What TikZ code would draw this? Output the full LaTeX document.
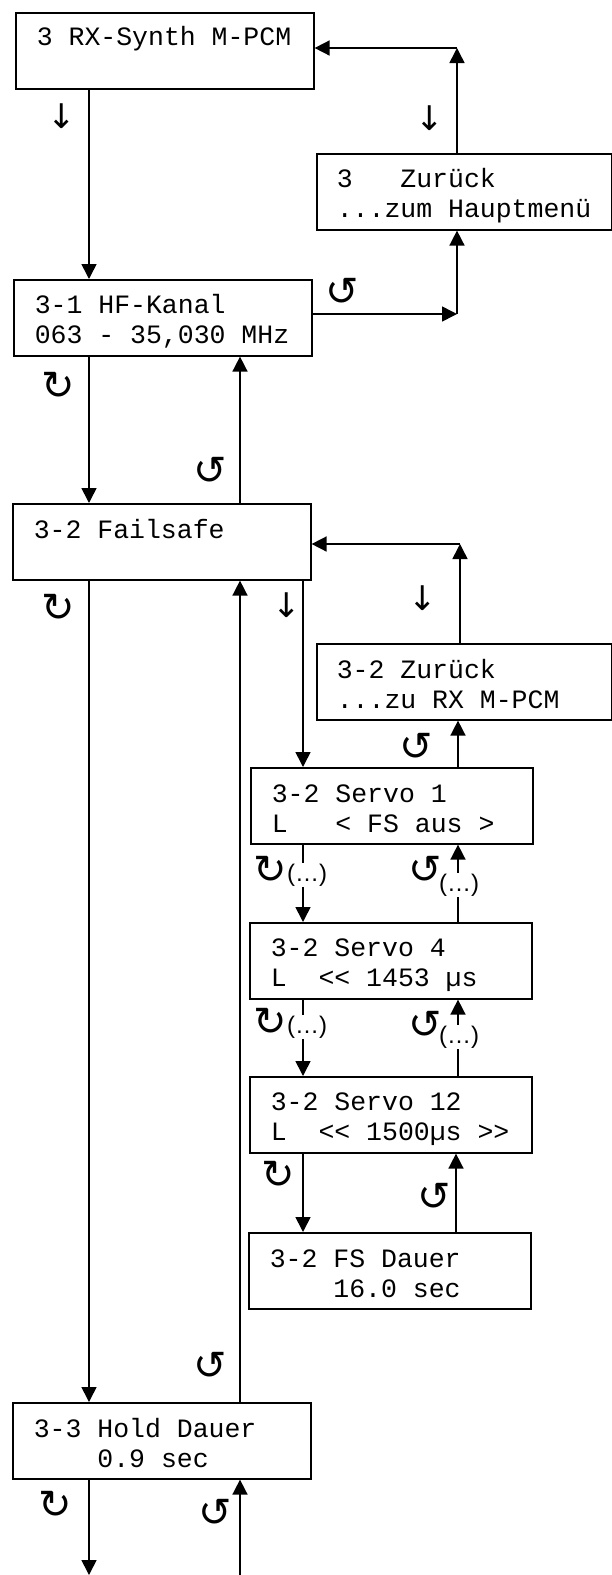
\documentclass[tikz,border=0pt]{standalone}
\usepackage{fontspec}
\usepackage{tikz}
\usetikzlibrary{positioning,arrows.meta}
\newfontfamily\lcdfont{Liberation Mono}
\newfontfamily\symfont{DejaVu Sans}
\newfontfamily\dotsfont{Liberation Sans}
\newcommand\lcdstrut{\rule[-3.5pt]{0pt}{30pt}\spaceskip=0.6em\xspaceskip=0.6em\relax}

\begin{document}
\begin{tikzpicture}[
  x=1pt, y=-1pt, line width=1.6pt, >={Triangle[length=15pt,width=15pt]},
  menu/.style={draw, anchor=north west, align=left, inner xsep=21pt, inner ysep=0pt,
               text width=256pt, minimum height=76pt,
               font=\lcdfont\fontsize{26.5}{30}\selectfont},
  back/.style={menu, inner xsep=20pt, text width=254.5pt},
  servo/.style={menu, text width=240pt},
  arr/.style={->},
  rot/.style={font=\symfont\fontsize{40}{40}\selectfont, inner sep=0pt},
  dn/.style={font=\symfont\fontsize{34}{34}\selectfont, inner sep=0pt},
  more/.style={font=\dotsfont\fontsize{24}{24}\selectfont, fill=white, inner sep=0.5pt},
]
\useasboundingbox (0,0) rectangle (611,1575);

\node[menu]  (rx)  at (15,12)    {\lcdstrut 3 RX-Synth M-PCM\\\lcdstrut};
\node[back]  (zr)  at (316,153)  {\lcdstrut 3~~~Zurück\\\lcdstrut ...zum Hauptmenü};
\node[menu]  (hf)  at (13,279)   {\lcdstrut 3-1 HF-Kanal\\\lcdstrut 063 - 35,030 MHz};
\node[menu]  (fs)  at (12,503)   {\lcdstrut 3-2 Failsafe\\\lcdstrut};
\node[back]  (zr2) at (316,643)  {\lcdstrut 3-2 Zurück\\\lcdstrut ...zu RX M-PCM};
\node[servo] (s1)  at (250,767)  {\lcdstrut 3-2 Servo 1\\\lcdstrut L~~~< FS aus >};
\node[servo] (s4)  at (249,922)  {\lcdstrut 3-2 Servo 4\\\lcdstrut L~~<{}< 1453 µs};
\node[servo] (s12) at (249,1076) {\lcdstrut 3-2 Servo 12\\\lcdstrut L~~<{}< 1500µs >{}>};
\node[servo] (fsd) at (248,1232) {\lcdstrut 3-2 FS Dauer\\\lcdstrut ~~~~16.0 sec};
\node[menu]  (hd)  at (12,1402)  {\lcdstrut 3-3 Hold Dauer\\\lcdstrut ~~~~0.9 sec};

\coordinate (k1) at (457,48);
\coordinate (k2) at (457,314);
\coordinate (k3) at (460,544);
\coordinate (e1) at (89,1575);
\coordinate (e2) at (240,1575);

\draw[arr] (89,0 |- rx.south) -- (89,0 |- hf.north);
\draw[arr] (k1 |- zr.north) -- (k1);
\draw[arr] (k1) -- (k1 -| rx.east);
\draw[arr] (k2 -| hf.east) -- (k2);
\draw[arr] (k2) -- (k2 |- zr.south);
\draw[arr] (89,0 |- hf.south) -- (89,0 |- fs.north);
\draw[arr] (240,0 |- fs.north) -- (240,0 |- hf.south);
\draw[arr] (k3 |- zr2.north) -- (k3);
\draw[arr] (k3) -- (k3 -| fs.east);
\draw[arr] (303,0 |- fs.south) -- (303,0 |- s1.north);
\draw[arr] (458,0 |- s1.north) -- (458,0 |- zr2.south);
\draw[arr] (303,0 |- s1.south) -- (303,0 |- s4.north);
\draw[arr] (458,0 |- s4.north) -- (458,0 |- s1.south);
\draw[arr] (303,0 |- s4.south) -- (303,0 |- s12.north);
\draw[arr] (458,0 |- s12.north) -- (458,0 |- s4.south);
\draw[arr] (303,0 |- s12.south) -- (303,0 |- fsd.north);
\draw[arr] (456,0 |- fsd.north) -- (456,0 |- s12.south);
\draw[arr] (89,0 |- fs.south) -- (89,0 |- hd.north);
\draw[arr] (240,0 |- hd.north) -- (240,0 |- fs.south);
\draw[arr] (89,0 |- hd.south) -- (e1);
\draw[arr] (e2) -- (240,0 |- hd.south);

\node[dn]   (d1)  at (62,116)   {↓};
\node[dn]   (d2)  at (430,118)  {↓};
\node[dn]   (d3)  at (287,605)  {↓};
\node[dn]   (d4)  at (423,598)  {↓};
\node[rot]  (r1)  at (342,292)  {↺};
\node[rot]  (r2)  at (58,386)   {↻};
\node[rot]  (r3)  at (210,471)  {↺};
\node[rot]  (r4)  at (58,608)   {↻};
\node[rot]  (r5)  at (416,747)  {↺};
\node[rot]  (r6)  at (270,870)  {↻};
\node[more] (m6)  at (307,875)  {(…)};
\node[rot]  (r7)  at (425,870)  {↺};
\node[more] (m7)  at (459,885)  {(…)};
\node[rot]  (r8)  at (270,1022) {↻};
\node[more] (m8)  at (307,1027) {(…)};
\node[rot]  (r9)  at (425,1025) {↺};
\node[more] (m9)  at (459,1037) {(…)};
\node[rot]  (r10) at (278,1175) {↻};
\node[rot]  (r11) at (434,1197) {↺};
\node[rot]  (r12) at (210,1366) {↺};
\node[rot]  (r13) at (55,1505)  {↻};
\node[rot]  (r14) at (215,1513) {↺};
\end{tikzpicture}
\end{document}
